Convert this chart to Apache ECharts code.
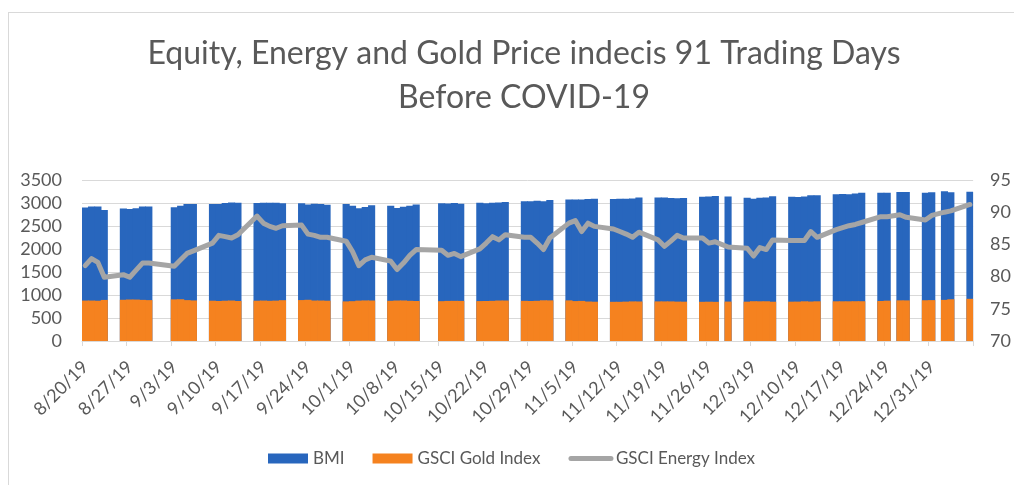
<!DOCTYPE html>
<html>
<head>
<meta charset="utf-8">
<script src="https://cdn.jsdelivr.net/npm/echarts@6/dist/echarts.min.js"></script>
<style>
  html, body { margin: 0; padding: 0; background: #fff; width: 1014px; height: 485px; overflow: hidden; }
  #frame { position: absolute; left: 8px; top: 12px; width: 1040px; height: 520px; border: 1px solid #d9d9d9; }
  #chart { position: absolute; left: 0; top: 0; width: 1014px; height: 485px; }
</style>
</head>
<body>
<div id="frame"></div>
<div id="chart"></div>
<script>
// ── data (trading days only; weekends/holidays left empty on the date axis) ──

const tradingDays = [
  '8/20/19', '8/21/19', '8/22/19', '8/23/19',
  '8/26/19', '8/27/19', '8/28/19', '8/29/19', '8/30/19',
  '9/3/19', '9/4/19', '9/5/19', '9/6/19',
  '9/9/19', '9/10/19', '9/11/19', '9/12/19', '9/13/19',
  '9/16/19', '9/17/19', '9/18/19', '9/19/19', '9/20/19',
  '9/23/19', '9/24/19', '9/25/19', '9/26/19', '9/27/19',
  '9/30/19', '10/1/19', '10/2/19', '10/3/19', '10/4/19',
  '10/7/19', '10/8/19', '10/9/19', '10/10/19', '10/11/19',
  '10/15/19', '10/16/19', '10/17/19', '10/18/19',
  '10/21/19', '10/22/19', '10/23/19', '10/24/19', '10/25/19',
  '10/28/19', '10/29/19', '10/30/19', '10/31/19', '11/1/19',
  '11/4/19', '11/5/19', '11/6/19', '11/7/19', '11/8/19',
  '11/11/19', '11/12/19', '11/13/19', '11/14/19', '11/15/19',
  '11/18/19', '11/19/19', '11/20/19', '11/21/19', '11/22/19',
  '11/25/19', '11/26/19', '11/27/19', '11/29/19',
  '12/2/19', '12/3/19', '12/4/19', '12/5/19', '12/6/19',
  '12/9/19', '12/10/19', '12/11/19', '12/12/19', '12/13/19',
  '12/16/19', '12/17/19', '12/18/19', '12/19/19', '12/20/19',
  '12/23/19', '12/24/19',
  '12/26/19', '12/27/19',
  '12/30/19', '12/31/19',
  '1/2/20', '1/3/20',
  '1/6/20',
]

const bmi = [
  2901, 2924, 2923, 2847,
  2878, 2869, 2888, 2925, 2926,
  2906, 2938, 2976, 2979,
  2978, 2979, 3001, 3010, 3007,
  2998, 3006, 3007, 3007, 2992,
  2992, 2967, 2985, 2978, 2962,
  2977, 2940, 2888, 2911, 2952,
  2939, 2893, 2919, 2938, 2970,
  2996, 2990, 2998, 2986,
  3007, 2996, 3005, 3010, 3023,
  3039, 3037, 3047, 3038, 3067,
  3078, 3075, 3077, 3085, 3093,
  3087, 3092, 3094, 3097, 3120,
  3122, 3120, 3108, 3104, 3110,
  3134, 3141, 3154, 3141,
  3114, 3093, 3113, 3117, 3146,
  3136, 3133, 3142, 3169, 3169,
  3191, 3193, 3191, 3205, 3221,
  3224, 3223,
  3240, 3240,
  3221, 3231,
  3258, 3235,
  3246,
]

const gold = [
  879, 879, 875, 893,
  896, 902, 901, 894, 889,
  905, 908, 889, 882,
  876, 869, 876, 880, 870,
  876, 879, 874, 878, 887,
  890, 896, 880, 880, 876,
  861, 866, 878, 882, 880,
  874, 880, 881, 874, 870,
  866, 872, 873, 872,
  868, 870, 873, 880, 880,
  873, 870, 874, 885, 883,
  883, 868, 872, 858, 854,
  852, 852, 856, 861, 859,
  861, 861, 861, 856, 855,
  852, 854, 851, 857,
  855, 865, 863, 864, 854,
  855, 856, 863, 858, 863,
  863, 863, 863, 865, 865,
  869, 877,
  884, 883,
  886, 889,
  894, 907,
  917,
]

const energy = [
  81.7, 82.8, 82.2, 79.9,
  80.3, 79.9, 81.0, 82.1, 82.1,
  81.6, 82.6, 83.6, 84.0,
  85.2, 86.4, 86.2, 86.0, 86.5,
  89.4, 88.3, 87.8, 87.5, 87.9,
  88.0, 86.6, 86.4, 86.1, 86.1,
  85.5, 83.9, 81.7, 82.6, 83.0,
  82.4, 81.1, 82.1, 83.3, 84.2,
  84.1, 83.3, 83.6, 83.1,
  84.3, 85.2, 86.2, 85.7, 86.5,
  86.1, 86.1, 85.2, 84.2, 86.0,
  88.3, 88.7, 87.0, 88.3, 87.8,
  87.4, 87.0, 86.6, 86.1, 86.9,
  85.7, 84.7, 85.5, 86.4, 86.0,
  86.0, 85.2, 85.4, 84.6,
  84.4, 83.2, 84.5, 84.2, 85.7,
  85.6, 85.6, 85.6, 87.0, 86.1,
  87.3, 87.6, 87.9, 88.1, 88.4,
  89.3, 89.3,
  89.6, 89.2,
  88.8, 89.5,
  90.0, 90.2,
  91.2,
]

// ── 日历日期轴: 每天一格, 非交易日留空 ──

const calendarDays = []
{
  const start = Date.UTC(2019, 7, 20)
  const end = Date.UTC(2020, 0, 6)
  for (let t = start; t <= end; t += 86400000) {
    const d = new Date(t)
    calendarDays.push(`${d.getUTCMonth() + 1}/${d.getUTCDate()}/${String(d.getUTCFullYear()).slice(2)}`)
  }
}
const dayIndex = new Map(tradingDays.map((d, i) => [d, i]))
const onCalendar = arr => calendarDays.map(c => (dayIndex.has(c) ? arr[dayIndex.get(c)] : null))

const textColor = '#595959'
const gridColor = '#d9d9d9'
const font = 'Lato, "Open Sans", sans-serif'
const blue = '#2866bd'
const orange = '#f5821f'
const gray = '#a5a5a5'

const chart = echarts.init(document.getElementById('chart'), undefined, { renderer: 'canvas' })

chart.setOption({
  backgroundColor: 'transparent',
  animation: false,
  textStyle: { fontFamily: font },
  title: {
    text: 'Equity, Energy and Gold Price indecis 91 Trading Days\nBefore COVID-19',
    left: 519, top: 27, textAlign: 'center',
    textStyle: { fontFamily: font, fontSize: 32, fontWeight: 'normal', color: textColor, lineHeight: 44 },
  },
  legend: {
    left: 263, top: 445,
    itemWidth: 40, itemHeight: 10, itemGap: 28,
    textStyle: { fontFamily: font, fontSize: 17, color: textColor },
    data: [
      { name: 'BMI', icon: 'rect' },
      { name: 'GSCI Gold Index', icon: 'rect' },
      { name: 'GSCI Energy Index', itemStyle: { opacity: 0 }, lineStyle: { width: 5, color: gray } },
    ],
  },
  grid: { left: 82, right: 38, top: 180, bottom: 144, containLabel: false },
  xAxis: {
    type: 'category',
    data: calendarDays,
    boundaryGap: true,
    axisLine: { lineStyle: { color: gridColor, width: 1 } },
    axisTick: { show: true, length: 5, interval: i => i % 7 === 0, lineStyle: { color: gridColor } },
    axisLabel: {
      interval: i => i % 7 === 0, rotate: 45, margin: 23,
      fontFamily: font, fontSize: 18, color: textColor,
    },
    splitLine: { show: false },
  },
  yAxis: [
    {
      type: 'value', min: 0, max: 3500, interval: 500,
      axisLine: { show: false }, axisTick: { show: false },
      axisLabel: { fontFamily: font, fontSize: 18, color: textColor, margin: 20, formatter: v => String(v) },
      splitLine: { lineStyle: { color: gridColor, width: 1 } },
    },
    {
      type: 'value', min: 70, max: 95, interval: 5,
      axisLine: { show: false }, axisTick: { show: false },
      axisLabel: { fontFamily: font, fontSize: 18, color: textColor, margin: 17 },
      splitLine: { show: false },
    },
  ],
  series: [
    {
      name: 'BMI', type: 'bar', data: onCalendar(bmi),
      barWidth: '112%', barGap: '-100%',
      itemStyle: { color: blue },
    },
    {
      name: 'GSCI Gold Index', type: 'bar', data: onCalendar(gold),
      barWidth: '112%', barGap: '-100%',
      itemStyle: { color: orange },
    },
    {
      name: 'GSCI Energy Index', type: 'line', yAxisIndex: 1,
      data: onCalendar(energy), connectNulls: true,
      symbol: 'none', smooth: false,
      lineStyle: { color: gray, width: 5, cap: 'round', join: 'round' },
      itemStyle: { color: gray },
    },
  ],
})
</script>
</body>
</html>
